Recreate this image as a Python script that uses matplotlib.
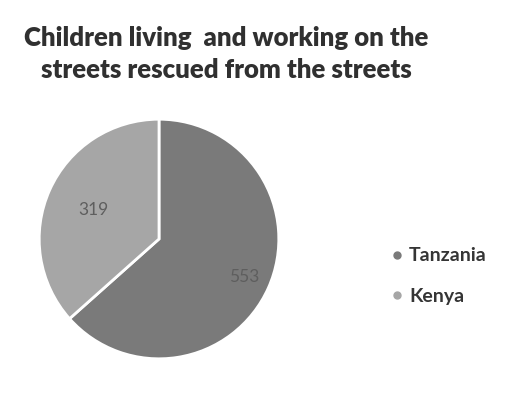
import numpy as np
import matplotlib.pyplot as plt
from matplotlib.lines import Line2D

countries = ["Tanzania", "Kenya"]
rescued = [553, 319]
colors = ["#7a7a7a", "#a6a6a6"]

fig = plt.figure(figsize=(5.09, 4.0), dpi=100)
ax = fig.add_axes([38 / 509., 40 / 400., 242 / 509., 242 / 400.])

wedges, texts = ax.pie(rescued,
                       colors=colors,
                       startangle=90,
                       counterclock=False,
                       radius=1.0,
                       wedgeprops=dict(edgecolor="white", linewidth=2))

# value labels inside the slices
dists = [0.78, 0.6]
for w, val, d in zip(wedges, rescued, dists):
    mid = np.deg2rad((w.theta1 + w.theta2) / 2.)
    ax.text(d * np.cos(mid), d * np.sin(mid), str(val),
            ha="center", va="center", fontsize=12.5, color="#5e5e5e",
            family="Lato")

ax.set_xlim(-1.01, 1.01)
ax.set_ylim(-1.01, 1.01)
ax.set_aspect("equal")

fig.text(0.445, 0.865, "Children living  and working on the\nstreets rescued from the streets",
         ha="center", va="center", fontsize=18.5, fontweight="heavy",
         family="Lato", color="#303030", linespacing=1.35)

handles = [Line2D([], [], ls="none", marker="o", markersize=5, color=c) for c in colors]
fig.legend(handles, countries,
           loc="center left",
           bbox_to_anchor=(0.735, 0.31),
           frameon=False,
           handlelength=0.6,
           handletextpad=0.3,
           labelspacing=1.2,
           prop=dict(family="Lato", size=14, weight="bold"),
           labelcolor="#353535")

fig.savefig("out.png", dpi=100)
